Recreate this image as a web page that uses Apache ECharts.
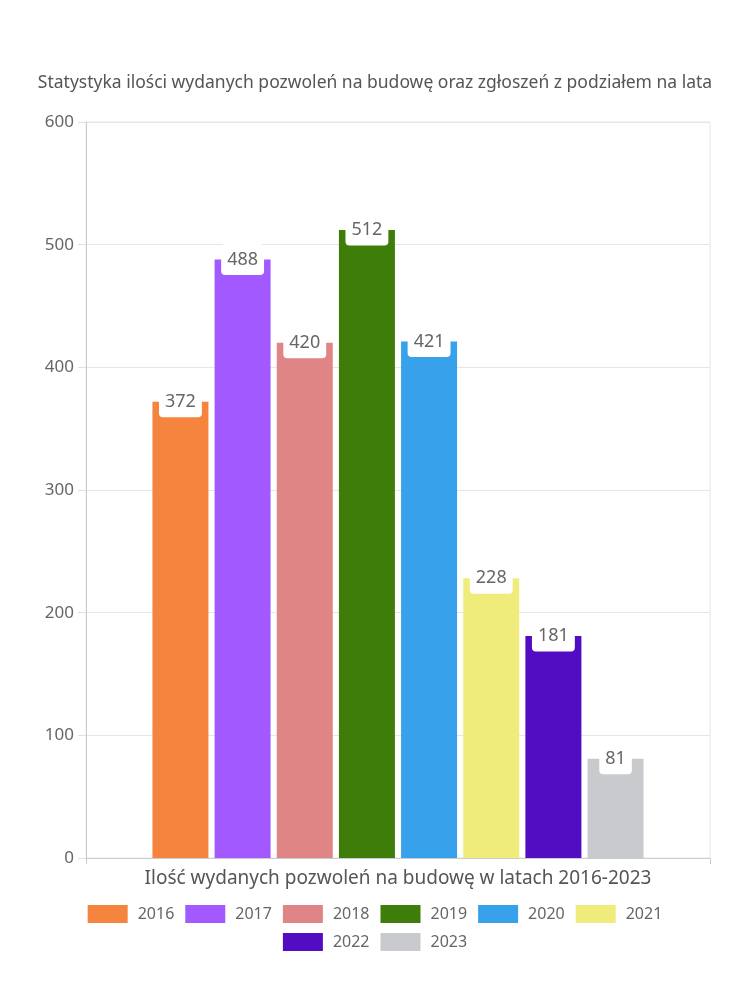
<!DOCTYPE html>
<html>
<head>
<meta charset="utf-8">
<script src="https://cdn.jsdelivr.net/npm/echarts@6/dist/echarts.min.js"></script>
<style>html,body{margin:0;padding:0;background:#fff}#c{width:750px;height:1000px}</style>
</head>
<body>
<div id="c"></div>
<script>
const years = ['2016','2017','2018','2019','2020','2021','2022','2023'];
const values = [372, 488, 420, 512, 421, 228, 181, 81];
const colors = ['#F5843F','#A259FF','#E08585','#3F7D0B','#37A2EB','#F0EC7C','#520DC2','#C9CACE'];
const yTicks = [0, 100, 200, 300, 400, 500, 600];
const titleText = 'Statystyka ilości wydanych pozwoleń na budowę oraz zgłoszeń z podziałem na lata';
const xName = 'Ilość wydanych pozwoleń na budowę w latach 2016-2023';

const FONT = 'Noto Sans';
const chart = echarts.init(document.getElementById('c'), null, {renderer:'canvas'});
const series = years.map((y, i) => ({
  name: y,
  type: 'bar',
  data: [values[i]],
  barWidth: 56,
  barGap: '11%',
  itemStyle: { color: colors[i] },
  label: {
    show: true,
    position: ['50%', 0],
    align: 'center',
    verticalAlign: 'middle',
    color: '#666',
    fontFamily: FONT,
    fontSize: 18,
    backgroundColor: '#fff',
    borderRadius: 4,
    padding: [7, 6, 6, 6]
  }
}));
const legendCommon = {
  orient: 'horizontal',
  left: 'center',
  itemWidth: 40,
  itemHeight: 18,
  itemGap: 11,
  icon: 'rect',
  textStyle: { color: '#666', fontFamily: FONT, fontSize: 16, padding: [0,0,0,5] }
};
chart.setOption({
  animation: false,
  title: {
    text: titleText,
    left: 'center',
    top: 69,
    textStyle: { color: '#555', fontFamily: FONT, fontSize: 17.5, fontWeight: 'normal' }
  },
  legend: [
    Object.assign({}, legendCommon, { data: years.slice(0, 6), top: 900 }),
    Object.assign({}, legendCommon, { data: years.slice(6), top: 928 })
  ],
  grid: {
    left: 86, right: 40, top: 122, bottom: 142,
    show: true, borderColor: '#e6e6e6', borderWidth: 1
  },
  xAxis: {
    type: 'category',
    data: [''],
    name: xName,
    nameLocation: 'middle',
    nameGap: 11,
    nameTextStyle: { color: '#555', fontFamily: FONT, fontSize: 19 },
    axisLine: { lineStyle: { color: '#ccc' } },
    axisTick: { show: true, length: 6, lineStyle: { color: '#ccc' } },
    axisLabel: { show: false }
  },
  yAxis: {
    type: 'value',
    min: yTicks[0],
    max: yTicks[yTicks.length - 1],
    interval: 100,
    axisLine: { show: true, lineStyle: { color: '#ccc' } },
    axisTick: { show: true, length: 8, lineStyle: { color: '#e0e0e0' } },
    axisLabel: { color: '#666', fontFamily: FONT, fontSize: 17, margin: 12 },
    splitLine: { lineStyle: { color: '#e6e6e6' } }
  },
  series: series
});
</script>
</body>
</html>
